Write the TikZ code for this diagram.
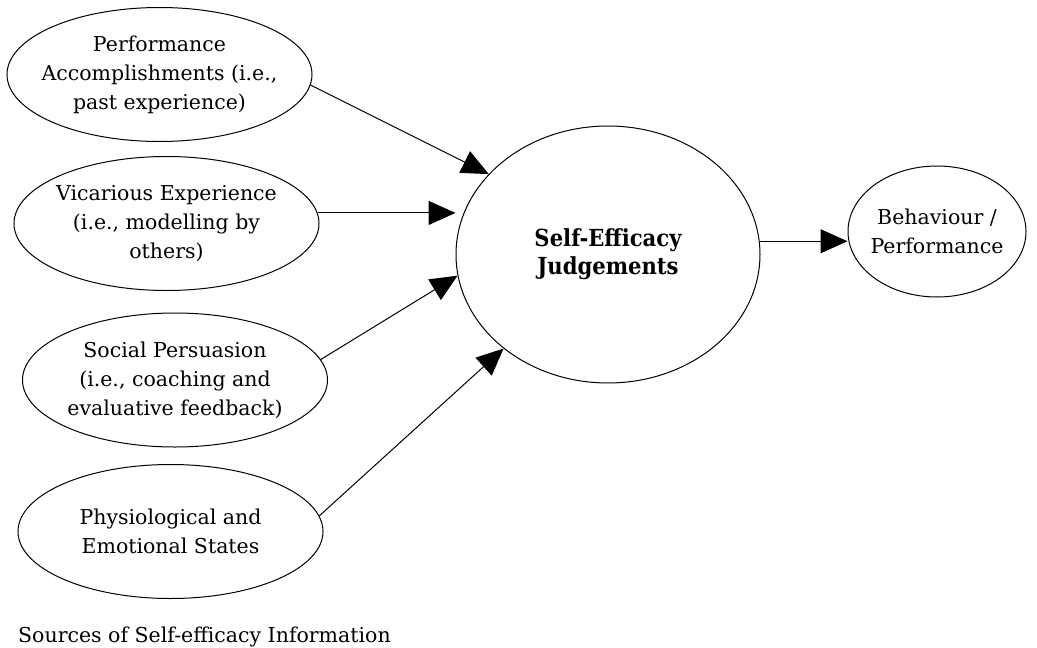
\documentclass[tikz,border=0pt]{standalone}
\usepackage{fontspec}
\setmainfont{DejaVu Serif}
\newfontfamily\condfont{DejaVu Serif Condensed}
\usetikzlibrary{shapes.geometric,arrows.meta}
\begin{document}
\begin{tikzpicture}[x=1pt,y=-1pt,
  every node/.style={font=\fontsize{20.5}{29}\selectfont},
  src/.style={draw,ellipse,line width=1pt,inner xsep=-20pt,inner ysep=0pt,align=center,minimum width=305pt,minimum height=134pt},
  arr/.style={line width=1pt,-{Triangle[length=27pt,width=24pt]}}]
\useasboundingbox (0,0) rectangle (1037,648);
\node[src] (perf) at (159.5,74.5) {Performance\\Accomplishments (i.e.,\\past experience)};
\node[src] (vica) at (166.5,223.5) {Vicarious Experience\\(i.e., modelling by\\others)};
\node[src] (soc) at (175,380) {Social Persuasion\\(i.e., coaching and\\evaluative feedback)};
\node[src] (phys) at (170.5,531.5) {Physiological and\\Emotional States};
\node[src,minimum width=304pt,minimum height=257pt,font=\condfont\bfseries\fontsize{23.5}{28}\selectfont] (judge) at (608,254.5) {Self-Efficacy\\Judgements};
\node[src,minimum width=178pt,minimum height=131pt] (beh) at (937,231.5) {Behaviour /\\Performance};
\node[anchor=base west,inner sep=0pt] (cap) at (18,642) {Sources of Self-efficacy Information};
\draw[arr] (perf.-4) -- (judge.146);
\draw[arr] (vica.4) -- (vica.4 -| judge.west);
\draw[arr] (soc.8) -- (judge.188);
\draw[arr] (phys.6) -- (judge.222);
\draw[arr] (judge.5) -- (judge.5 -| beh.west);
\end{tikzpicture}
\end{document}
